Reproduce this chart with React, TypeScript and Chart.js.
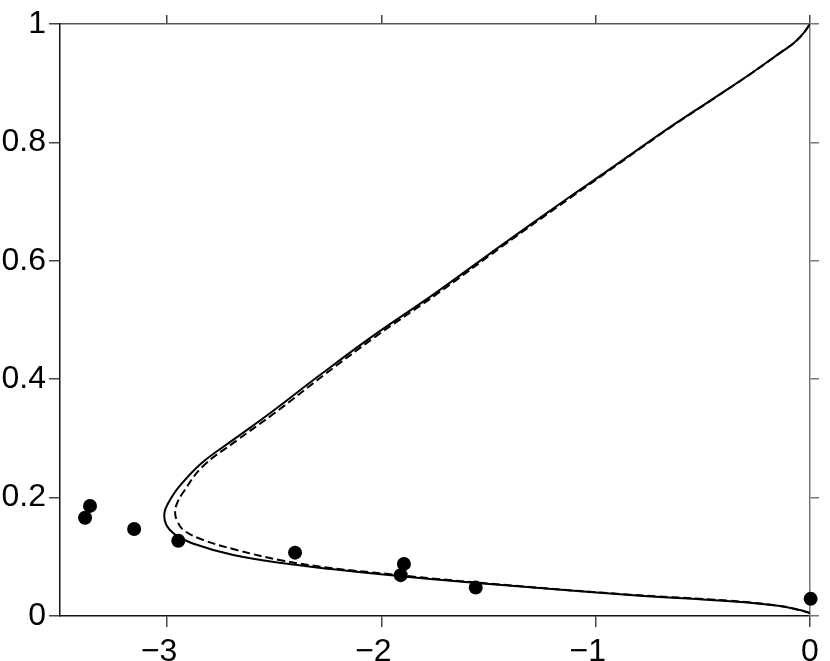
import React, { useEffect, useRef } from "react";
import Chart from "chart.js/auto";

const xTickValues = [-3, -2, -1, 0];
const yTickValues = [0, 0.2, 0.4, 0.6, 0.8, 1];

const solidX = [0, -0.047, -0.14, -0.373, -0.84, -1.307, -1.773, -1.991, -2.224, -2.458, -2.691, -2.884, -2.961, -3.004, -3.013, -2.996, -2.945, -2.84, -2.694, -2.522, -2.287, -2.044, -1.75, -1.437, -1.129, -0.961, -0.807, -0.66, -0.449, -0.265, -0.125, -0.078, -0.031, 0];
const solidY = [0.005, 0.01, 0.017, 0.025, 0.0355, 0.0485, 0.0625, 0.07, 0.079, 0.089, 0.103, 0.123, 0.137, 0.154, 0.1735, 0.19, 0.218, 0.258, 0.297, 0.342, 0.407, 0.472, 0.545, 0.627, 0.706, 0.748, 0.787, 0.824, 0.8745, 0.919, 0.955, 0.967, 0.984, 1];

const dashedX = [0, -0.047, -0.14, -0.373, -0.84, -1.307, -1.773, -1.991, -2.224, -2.458, -2.675, -2.831, -2.924, -2.955, -2.963, -2.953, -2.928, -2.835, -2.672, -2.5, -2.268, -2.028, -1.736, -1.428, -1.122, -0.955, -0.803, -0.657, -0.447, -0.264, -0.125, -0.078, -0.031, 0];
const dashedY = [0.005, 0.01, 0.017, 0.0257, 0.036, 0.049, 0.0637, 0.0718, 0.0806, 0.0934, 0.1115, 0.1284, 0.1453, 0.1622, 0.1762, 0.191, 0.2073, 0.2522, 0.2973, 0.3424, 0.4071, 0.4718, 0.5451, 0.6267, 0.7056, 0.748, 0.787, 0.824, 0.8745, 0.919, 0.955, 0.967, 0.984, 1];

const obsX = [-3.383, -3.36, -3.154, -2.948, -2.403, -1.895, -1.91, -1.56, 0.003];
const obsY = [0.166, 0.186, 0.147, 0.127, 0.107, 0.088, 0.069, 0.048, 0.029];

const FONT = "'Liberation Sans', Arial, Helvetica, sans-serif";

const zip = (xs: number[], ys: number[]) => xs.map((x, i) => ({ x, y: ys[i] }));

export default function App() {
  const ref = useRef<HTMLCanvasElement | null>(null);

  useEffect(() => {
    if (!ref.current) return;
    const gridBase = { drawOnChartArea: false, drawTicks: true, color: "#444", lineWidth: 1.5 };
    const chart = new Chart(ref.current, {
      type: "scatter",
      data: {
        datasets: [
          {
            label: "obs",
            data: zip(obsX, obsY),
            backgroundColor: "#000",
            borderWidth: 0,
            pointRadius: 7,
            showLine: false,
            clip: false as any,
            order: 0,
          },
          {
            label: "solid",
            data: zip(solidX, solidY),
            borderColor: "#000",
            borderWidth: 2,
            pointRadius: 0,
            showLine: true,
            tension: 0.4,
            order: 1,
          },
          {
            label: "dashed",
            data: zip(dashedX, dashedY),
            borderColor: "#000",
            borderWidth: 2,
            borderDash: [8, 4],
            pointRadius: 0,
            showLine: true,
            tension: 0.4,
            order: 2,
          },
        ],
      },
      options: {
        animation: false,
        responsive: false,
        layout: { padding: 0 },
        plugins: { legend: { display: false }, tooltip: { enabled: false } },
        scales: {
          x: {
            type: "linear",
            position: "bottom",
            min: -3.5,
            max: 0,
            afterBuildTicks: (s: any) => {
              s.ticks = xTickValues.map((v) => ({ value: v }));
            },
            afterFit: (s: any) => {
              s.height = 45;
            },
            ticks: {
              autoSkip: false,
              maxRotation: 0,
              padding: 6,
              color: "#000",
              font: { family: FONT, size: 32 },
              callback: (v: any) => (Number(v) < 0 ? "\u2212" + Math.abs(Number(v)) + "\u2002" : String(v)),
            },
            grid: { ...gridBase, tickLength: 11 },
            border: { color: "#111", width: 1.5 },
          },
          x2: {
            type: "linear",
            position: "top",
            min: -3.5,
            max: 0,
            afterBuildTicks: (s: any) => {
              s.ticks = xTickValues.map((v) => ({ value: v }));
            },
            afterFit: (s: any) => {
              s.height = 24;
            },
            ticks: { display: false },
            grid: { ...gridBase, tickLength: 9 },
            border: { color: "#555", width: 1.5 },
          },
          y: {
            type: "linear",
            position: "left",
            min: 0,
            max: 1,
            afterBuildTicks: (s: any) => {
              s.ticks = yTickValues.map((v) => ({ value: v }));
            },
            afterFit: (s: any) => {
              s.width = 60;
            },
            ticks: {
              padding: 3,
              color: "#000",
              font: { family: FONT, size: 32 },
              callback: (v: any) => {
                const t = Number(v).toFixed(1);
                return t.endsWith(".0") ? t.slice(0, -2) : t;
              },
            },
            grid: { ...gridBase, tickLength: 11 },
            border: { color: "#111", width: 1.5 },
          },
          y2: {
            type: "linear",
            position: "right",
            min: 0,
            max: 1,
            afterBuildTicks: (s: any) => {
              s.ticks = yTickValues.map((v) => ({ value: v }));
            },
            afterFit: (s: any) => {
              s.width = 20;
            },
            ticks: { display: false },
            grid: { ...gridBase, tickLength: 9, color: "#777" },
            border: { color: "#777", width: 1.5 },
          },
        },
      },
    });
    return () => chart.destroy();
  }, []);

  return (
    <div style={{ position: "absolute", left: 0, top: 0, width: 830, height: 661, background: "#fff" }}>
      <canvas ref={ref} width={830} height={661} style={{ display: "block" }} />
    </div>
  );
}
